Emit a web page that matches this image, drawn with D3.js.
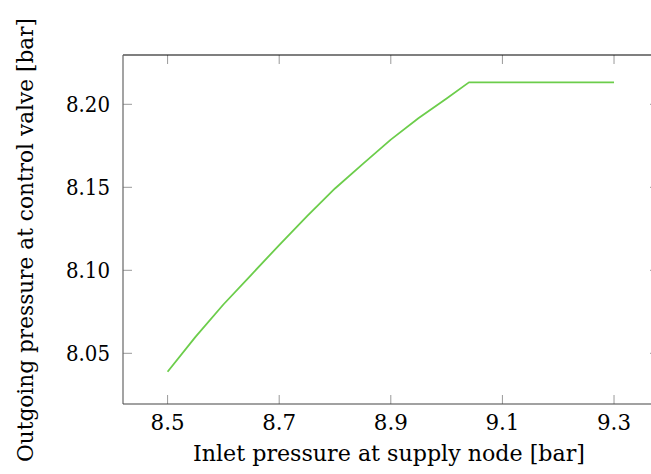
<!DOCTYPE html>
<html>
<head>
<meta charset="utf-8">
<script src="https://cdn.jsdelivr.net/npm/d3@7"></script>
<style>
html,body{margin:0;padding:0;background:#fff;}
svg{display:block;}
</style>
</head>
<body>
<svg id="chart" width="651" height="474"></svg>
<script>
// Data
const inletPressure = [8.50, 8.55, 8.60, 8.65, 8.70, 8.75, 8.80, 8.85, 8.90, 8.95, 9.00, 9.04, 9.10, 9.20, 9.30];
const outgoingPressure = [8.0389, 8.0599, 8.0794, 8.0973, 8.1152, 8.1326, 8.1493, 8.1641, 8.1787, 8.1917, 8.2035, 8.2132, 8.2132, 8.2132, 8.2132];
const xTicks = [8.5, 8.7, 8.9, 9.1, 9.3];
const yTicks = [8.05, 8.10, 8.15, 8.20];
const xTickLabels = ["8.5", "8.7", "8.9", "9.1", "9.3"];
const yTickLabels = ["8.05", "8.10", "8.15", "8.20"];
const xTitle = "Inlet pressure at supply node [bar]";
const yTitle = "Outgoing pressure at control valve [bar]";

const FONT = "'DejaVu Serif', 'Liberation Serif', serif";
const svg = d3.select("#chart");
const L = 123, R = 659, T = 55, B = 404;
const x = d3.scaleLinear().domain([8.4201, 9.3806]).range([L, R]);
const y = d3.scaleLinear().domain([8.01946, 8.22970]).range([B, T]);

const tickLen = 9, tickColor = "#999";
const g = svg.append("g");

xTicks.forEach(v => {
  g.append("line").attr("x1", x(v)).attr("x2", x(v)).attr("y1", B).attr("y2", B - tickLen)
    .attr("stroke", tickColor).attr("stroke-width", 1);
  g.append("line").attr("x1", x(v)).attr("x2", x(v)).attr("y1", T).attr("y2", T + tickLen)
    .attr("stroke", tickColor).attr("stroke-width", 1);
});
yTicks.forEach(v => {
  g.append("line").attr("x1", L).attr("x2", L + tickLen).attr("y1", y(v)).attr("y2", y(v))
    .attr("stroke", tickColor).attr("stroke-width", 1);
  g.append("line").attr("x1", R).attr("x2", R - tickLen).attr("y1", y(v)).attr("y2", y(v))
    .attr("stroke", tickColor).attr("stroke-width", 1);
});

g.append("line").attr("x1", L).attr("x2", R).attr("y1", T).attr("y2", T).attr("stroke", "#000").attr("stroke-width", 1.2);
g.append("line").attr("x1", L).attr("x2", L).attr("y1", T).attr("y2", B).attr("stroke", "#666").attr("stroke-width", 1.2);
g.append("line").attr("x1", L).attr("x2", R).attr("y1", B).attr("y2", B).attr("stroke", "#444").attr("stroke-width", 1.2);
g.append("line").attr("x1", R).attr("x2", R).attr("y1", T).attr("y2", B).attr("stroke", "#666").attr("stroke-width", 1.2);

xTicks.forEach((v, i) => {
  svg.append("text").attr("x", x(v)).attr("y", 430).attr("text-anchor", "middle")
    .attr("font-family", FONT).attr("font-size", 22)
    .attr("textLength", 34).attr("lengthAdjust", "spacingAndGlyphs").text(xTickLabels[i]);
});
yTicks.forEach((v, i) => {
  svg.append("text").attr("x", 110).attr("y", y(v)).attr("dy", "0.36em").attr("text-anchor", "end")
    .attr("font-family", FONT).attr("font-size", 22)
    .attr("textLength", 44).attr("lengthAdjust", "spacingAndGlyphs").text(yTickLabels[i]);
});

const line = d3.line().x((d, i) => x(inletPressure[i])).y(d => y(d)).curve(d3.curveLinear);
svg.append("path").datum(outgoingPressure).attr("d", line)
  .attr("fill", "none").attr("stroke", "#6ccd4b").attr("stroke-width", 1.8)
  .attr("stroke-linejoin", "round");

svg.append("text").attr("x", 389).attr("y", 461).attr("text-anchor", "middle")
  .attr("font-family", FONT).attr("font-size", 22)
  .attr("textLength", 392).attr("lengthAdjust", "spacingAndGlyphs").text(xTitle);
svg.append("text").attr("transform", "translate(33,240) rotate(-90)").attr("text-anchor", "middle")
  .attr("font-family", FONT).attr("font-size", 22)
  .attr("textLength", 444).attr("lengthAdjust", "spacingAndGlyphs").text(yTitle);
</script>
</body>
</html>
